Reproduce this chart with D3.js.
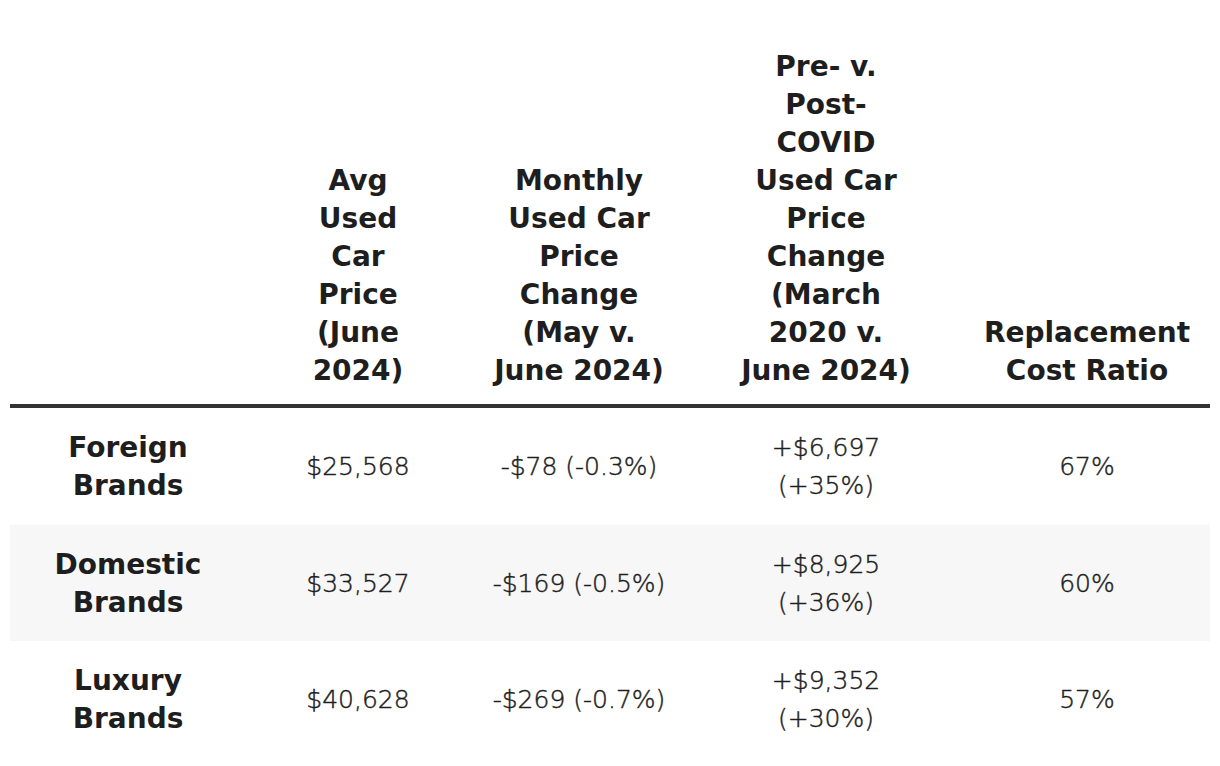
<!DOCTYPE html>
<html><head><meta charset="utf-8">
<script src="https://cdn.jsdelivr.net/npm/d3@7"></script>
<style>
body{margin:0;background:#fff;}
svg{display:block;}
</style></head>
<body>
<svg id="chart" width="1220" height="766"></svg>
<script>
// ---- data ----
const headers = [
  [],
  ["Avg","Used","Car","Price","(June","2024)"],
  ["Monthly","Used Car","Price","Change","(May v.","June 2024)"],
  ["Pre- v.","Post-","COVID","Used Car","Price","Change","(March","2020 v.","June 2024)"],
  ["Replacement","Cost Ratio"]
];
const categories = [["Foreign","Brands"],["Domestic","Brands"],["Luxury","Brands"]];
const avgPrice = ["$25,568","$33,527","$40,628"];
const monthlyChange = ["-$78 (-0.3%)","-$169 (-0.5%)","-$269 (-0.7%)"];
const covidChange = [["+$6,697","(+35%)"],["+$8,925","(+36%)"],["+$9,352","(+30%)"]];
const replacementRatio = ["67%","60%","57%"];

// ---- layout ----
const colWidths = [236,224,218,276,246];
const left = 10, right = 1210;
const headerBottom = 406, rowH = 116.5;
const font = "'DejaVu Sans', sans-serif";
const ink = "#1e1e1e";

const svg = d3.select("#chart");
const colStarts = colWidths.reduce((a,w,i)=>{a.push(i? a[i-1]+colWidths[i-1] : left); return a;},[]);
const xCenter = i => colStarts[i] + colWidths[i]/2;
const y = d3.scaleBand().domain(d3.range(categories.length))
  .range([headerBottom+2, headerBottom+2+rowH*categories.length]).padding(0);

// row backgrounds
svg.selectAll("rect.row").data(d3.range(categories.length)).join("rect")
  .attr("class","row").attr("x",left).attr("width",right-left)
  .attr("y",i=>y(i)).attr("height",y.bandwidth())
  .attr("fill",i=> i%2===1 ? "#f7f7f7" : "#fff");

// header
const lineH = 38, headBase = 380;
headers.forEach((lines,ci)=>{
  const n = lines.length;
  svg.append("g").selectAll("text").data(lines).join("text")
    .attr("x", xCenter(ci))
    .attr("y",(d,i)=> headBase - (n-1-i)*lineH)
    .attr("text-anchor","middle")
    .attr("font-family",font).attr("font-weight",700).attr("font-size",28)
    .attr("fill",ink).text(d=>d);
});

// header rule
svg.append("line").attr("x1",left).attr("x2",right)
  .attr("y1",headerBottom).attr("y2",headerBottom)
  .attr("stroke","#333").attr("stroke-width",4);

// cells
function cell(ci, ri, lines, bold){
  const cy = y(ri) + y.bandwidth()/2;
  const lh = 38, n = lines.length;
  const t = svg.append("g").selectAll("text").data(lines).join("text")
    .attr("x", xCenter(ci))
    .attr("y",(d,i)=> cy + (i-(n-1)/2)*lh)
    .attr("dy","0.36em")
    .attr("text-anchor","middle")
    .attr("font-family",font)
    .attr("font-weight", bold?700:200)
    .attr("font-size", bold?28:25)
    .attr("fill",ink).text(d=>d);
  if(!bold) t.attr("stroke",ink).attr("stroke-width",0.45);
}
categories.forEach((c,ri)=>{
  cell(0,ri,c,true);
  cell(1,ri,[avgPrice[ri]],false);
  cell(2,ri,[monthlyChange[ri]],false);
  cell(3,ri,covidChange[ri],false);
  cell(4,ri,[replacementRatio[ri]],false);
});
</script>
</body></html>
